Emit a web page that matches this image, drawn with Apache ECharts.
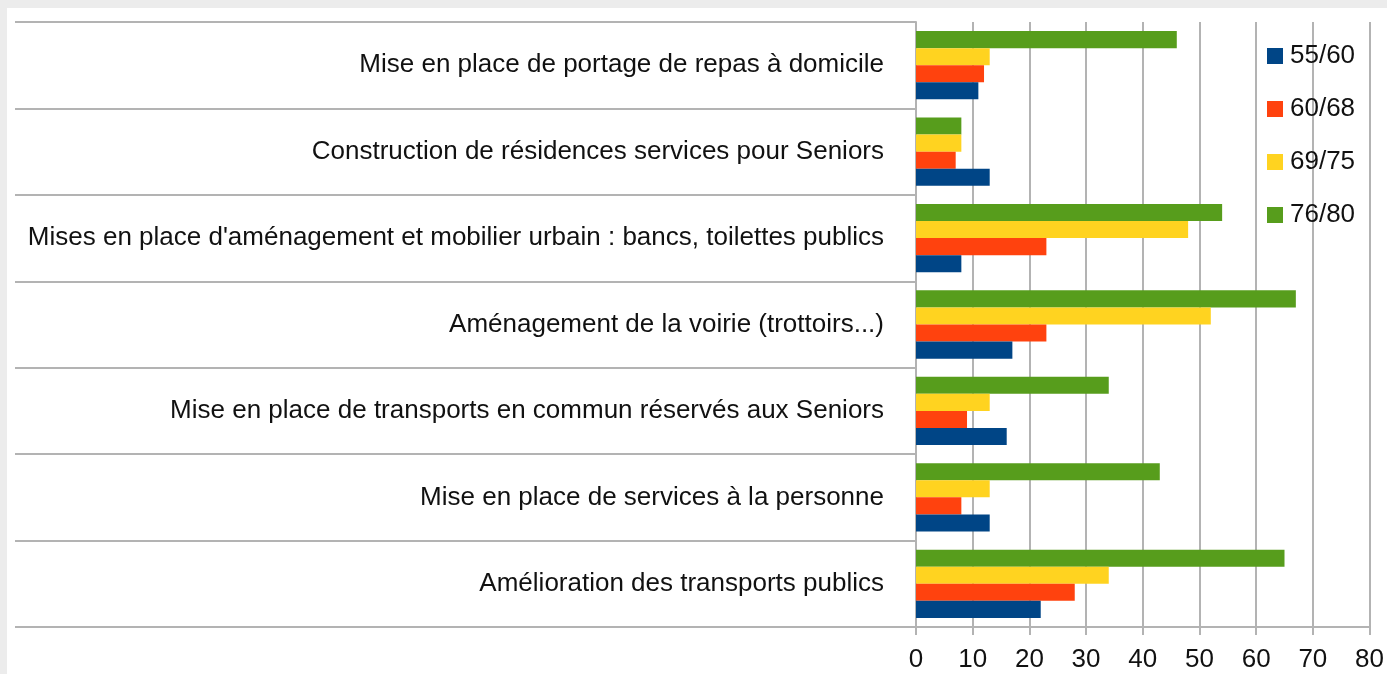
<!DOCTYPE html>
<html>
<head>
<meta charset="utf-8">
<script src="https://cdn.jsdelivr.net/npm/echarts@6/dist/echarts.min.js"></script>
<style>
    html, body { margin: 0; padding: 0; background: #ececec; }
    #chart { position: absolute; left: 7px; top: 8px; width: 1380px; height: 666px; background: #fff; }
</style>
</head>
<body>
<div id="chart"></div>
<script>
//categories, top to bottom
var categories = [
    'Mise en place de portage de repas à domicile',
    'Construction de résidences services pour Seniors',
    "Mises en place d'aménagement et mobilier urbain : bancs, toilettes publics",
    'Aménagement de la voirie (trottoirs...)',
    'Mise en place de transports en commun réservés aux Seniors',
    'Mise en place de services à la personne',
    'Amélioration des transports publics'
];
var seriesNames = ['55/60', '60/68', '69/75', '76/80'];
var v55_60 = [11, 13, 8, 17, 16, 13, 22];
var v60_68 = [12, 7, 23, 23, 9, 8, 28];
var v69_75 = [13, 8, 48, 52, 13, 13, 34];
var v76_80 = [46, 8, 54, 67, 34, 43, 65];
var xTicks = [0, 80, 10];

var colors = ['#004586', '#ff420e', '#ffd320', '#579d1c'];
var allData = [v55_60, v60_68, v69_75, v76_80];

var chart = echarts.init(document.getElementById('chart'));

var series = [];
// 倒序加入：76/80 在每组最上面，55/60 在最下面
for (var i = seriesNames.length - 1; i >= 0; i--) {
    series.push({
        name: seriesNames[i],
        type: 'bar',
        data: allData[i],
        itemStyle: { color: colors[i] },
        barGap: '0%',
        barCategoryGap: '21%'
    });
}

chart.setOption({
    animation: false,
    textStyle: { fontFamily: 'Liberation Sans' },
    grid: { left: 909, top: 14, right: 17, bottom: 47 },
    legend: {
        orient: 'vertical',
        left: 1255,
        top: 30,
        itemWidth: 16,
        itemHeight: 16,
        itemGap: 27,
        icon: 'rect',
        data: seriesNames,
        textStyle: { fontSize: 26, color: '#111', padding: [0, 0, 0, 2] }
    },
    xAxis: {
        type: 'value',
        min: xTicks[0],
        max: xTicks[1],
        interval: xTicks[2],
        axisLine: { show: true, lineStyle: { color: '#b3b3b3', width: 2 } },
        axisTick: { show: true, length: 8, lineStyle: { color: '#b3b3b3', width: 2 } },
        axisLabel: { fontSize: 26, color: '#111', margin: 20 },
        splitLine: { show: true, lineStyle: { color: '#b3b3b3', width: 2 } }
    },
    yAxis: {
        type: 'category',
        inverse: true,
        data: categories,
        axisLine: { show: true, lineStyle: { color: '#b3b3b3', width: 2 } },
        axisTick: { show: true, length: 901, lineStyle: { color: '#b3b3b3', width: 2 } },
        axisLabel: { fontSize: 26, color: '#111', margin: 32 },
        splitLine: { show: false }
    },
    series: series
});
</script>
</body>
</html>
